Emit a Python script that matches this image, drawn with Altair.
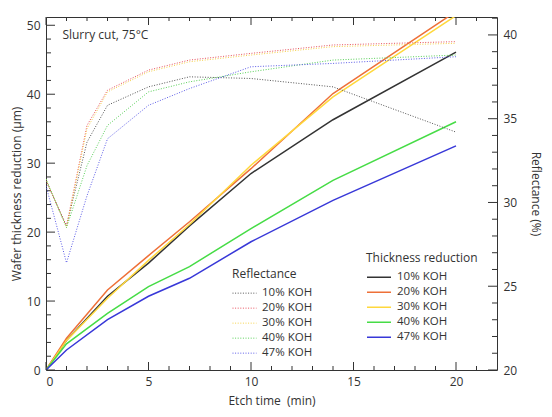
import altair as alt
import pandas as pd

series = ["10% KOH", "20% KOH", "30% KOH", "40% KOH", "47% KOH"]

# Thickness reduction (um), left axis
time_thick = [0, 1, 3, 5, 7, 10, 14, 20]
thick_10 = [0, 4.3, 10.7, 15.5, 20.9, 28.5, 36.3, 46.1]
thick_20 = [0, 4.6, 11.6, 16.6, 21.5, 29.2, 40.1, 52.0]
thick_30 = [0, 4.3, 10.4, 15.9, 21.1, 29.7, 39.6, 51.4]
thick_40 = [0, 3.8, 8.2, 12.1, 15.0, 20.5, 27.5, 36.0]
thick_47 = [0, 2.9, 7.3, 10.7, 13.3, 18.6, 24.6, 32.5]

# Reflectance (%), right axis
time_refl = [0, 1, 2, 3, 5, 7, 10, 14, 20]
refl_10 = [31.3, 28.6, 33.6, 35.8, 36.9, 37.5, 37.4, 36.9, 34.2]
refl_20 = [31.3, 28.6, 34.6, 36.7, 37.9, 38.5, 38.9, 39.4, 39.6]
refl_30 = [31.4, 28.5, 34.4, 36.6, 37.8, 38.4, 38.8, 39.3, 39.5]
refl_40 = [31.4, 28.5, 32.2, 34.6, 36.6, 37.2, 37.8, 38.5, 38.8]
refl_47 = [31.0, 26.4, 30.4, 33.8, 35.8, 36.8, 38.1, 38.3, 38.7]

thick_colors = ["#333333", "#EE7038", "#FFD83C", "#46DC46", "#3838D8"]
refl_colors = ["#555555", "#E8505E", "#F5D24A", "#58D058", "#5C5CE8"]

x_major = [0, 5, 10, 15, 20]
x_minor = [1, 2, 3, 4, 6, 7, 8, 9, 11, 12, 13, 14, 16, 17, 18, 19, 21]
left_major = [0, 10, 20, 30, 40, 50]
left_minor = [2, 4, 6, 8, 12, 14, 16, 18, 22, 24, 26, 28, 32, 34, 36, 38, 42, 44, 46, 48]
right_major = [20, 25, 30, 35, 40]
right_minor = [21, 22, 23, 24, 26, 27, 28, 29, 31, 32, 33, 34, 36, 37, 38, 39, 41]

annot_text = ["Slurry cut, 75°C"]
annot_x = [0.8]
annot_y = [48.6]

W, H = 451, 353
FONT = "Open Sans"
INK = "#333333"

thick_df = pd.DataFrame(
    [(t, v, s) for s, vals in zip(series, [thick_10, thick_20, thick_30, thick_40, thick_47])
     for t, v in zip(time_thick, vals)],
    columns=["time", "value", "series"],
)
refl_df = pd.DataFrame(
    [(t, v, s) for s, vals in zip(series, [refl_10, refl_20, refl_30, refl_40, refl_47])
     for t, v in zip(time_refl, vals)],
    columns=["time", "value", "series"],
)

xscale = alt.Scale(domain=[0, 22], nice=False, zero=False)
lscale = alt.Scale(domain=[0, 51.2], nice=False, zero=False)
rscale = alt.Scale(domain=[20, 41.07], nice=False, zero=False)

xaxis = alt.Axis(values=x_major, title="Etch time \u00a0(min)", ticks=False,
                 domain=False, labelPadding=6, titlePadding=8)
laxis = alt.Axis(orient="left", values=left_major, title="Wafer thickness reduction (µm)",
                 ticks=False, domain=False, labelPadding=6, titlePadding=3)
raxis = alt.Axis(orient="right", values=right_major, title="Reflectance (%)",
                 ticks=False, domain=False, labelPadding=6, titlePadding=12)

thick_lines = alt.Chart(thick_df).mark_line(strokeWidth=1.5, clip=True).encode(
    x=alt.X("time:Q", scale=xscale, axis=xaxis),
    y=alt.Y("value:Q", scale=lscale, axis=laxis),
    color=alt.Color("series:N", scale=alt.Scale(domain=series, range=thick_colors),
                    legend=alt.Legend(title="Thickness reduction", orient="none",
                                      legendX=320, legendY=236, symbolType="stroke",
                                      symbolSize=576, symbolStrokeWidth=1.5, clipHeight=14.3,
                                      rowPadding=0, labelOffset=5, padding=0)),
)

annot = alt.Chart(pd.DataFrame({"time": annot_x, "value": annot_y, "label": annot_text})).mark_text(
    align="left", baseline="middle", fontSize=12, font=FONT, color=INK
).encode(
    x=alt.X("time:Q", scale=xscale, axis=xaxis),
    y=alt.Y("value:Q", scale=lscale, axis=laxis),
    text="label:N",
)

def yticks(vals, scale, axis, x1, x2):
    return alt.Chart(pd.DataFrame({"value": vals})).mark_rule(color=INK, strokeWidth=1).encode(
        y=alt.Y("value:Q", scale=scale, axis=axis),
        x=alt.value(x1), x2=alt.value(x2),
    )

def xticks(vals, y1, y2):
    return alt.Chart(pd.DataFrame({"time": vals})).mark_rule(color=INK, strokeWidth=1).encode(
        x=alt.X("time:Q", scale=xscale, axis=xaxis),
        y=alt.value(y1), y2=alt.value(y2),
    )

left = alt.layer(
    thick_lines, annot,
    yticks(left_major, lscale, laxis, 0, 9), yticks(left_minor, lscale, laxis, 0, 5),
)

refl_lines = alt.Chart(refl_df).mark_line(strokeWidth=1, strokeDash=[1, 1.6], clip=True).encode(
    x=alt.X("time:Q", scale=xscale, axis=xaxis),
    y=alt.Y("value:Q", scale=rscale, axis=raxis),
    color=alt.Color("series:N", scale=alt.Scale(domain=series, range=refl_colors),
                    legend=alt.Legend(title="Reflectance", orient="none",
                                      legendX=186, legendY=252, symbolType="stroke",
                                      symbolSize=576, symbolStrokeWidth=1, symbolDash=[1, 1.6],
                                      clipHeight=14.3, rowPadding=0, labelOffset=5, padding=0)),
)

right = alt.layer(
    refl_lines,
    yticks(right_major, rscale, raxis, W, W - 9), yticks(right_minor, rscale, raxis, W, W - 5),
)

chart = alt.layer(
    left, right,
    xticks(x_major, H, H - 8), xticks(x_minor, H, H - 4),
    xticks(x_major, 0, 8), xticks(x_minor, 0, 4),
).resolve_scale(
    y="independent", color="independent"
).properties(
    width=W, height=H,
    autosize=alt.AutoSizeParams(type="none"),
    padding={"left": 38, "top": 9, "right": 47, "bottom": 39},
).configure_view(
    stroke=INK, strokeWidth=1
).configure_axis(
    grid=False, labelFont=FONT, titleFont=FONT, labelFontSize=12, titleFontSize=12,
    labelColor=INK, titleColor=INK, titleFontWeight="normal",
).configure_legend(
    titleFont=FONT, labelFont=FONT, titleFontSize=12, labelFontSize=11.5,
    titleColor=INK, labelColor=INK, titleFontWeight="normal",
)

chart.save("out.html", embed_options={"renderer": "svg", "actions": False})
